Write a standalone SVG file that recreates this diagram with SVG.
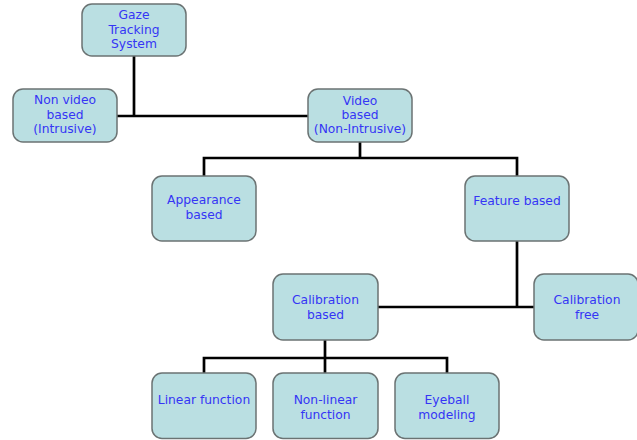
<svg xmlns="http://www.w3.org/2000/svg" width="637" height="440" viewBox="0 0 637 440">
<style>
.b{fill:#badfe2;stroke:#6b7373;stroke-width:1.5}
.t{font-family:"DejaVu Sans",sans-serif;font-size:12.3px;fill:#3535f5;text-anchor:middle}
.c{fill:none;stroke:#000;stroke-width:2.7}
</style>
<rect width="637" height="440" fill="#fff"/>
<g id="connectors">
<path class="c" d="M134 56V116M117 116H308"/>
<path class="c" d="M360 142V158M204 176V158H517V176"/>
<path class="c" d="M517 241V307M378 307H534"/>
<path class="c" d="M325 340V358M204 373V358H447V373M325 358V373"/>
</g>
<g id="gaze"><rect class="b" x="82" y="4" width="104" height="52" rx="10"/><text class="t" x="134" y="19">Gaze</text><text class="t" x="134" y="33.5">Tracking</text><text class="t" x="134" y="48">System</text></g>
<g id="nonvideo"><rect class="b" x="13" y="89" width="104" height="53" rx="10"/><text class="t" x="65" y="104">Non video</text><text class="t" x="65" y="118.5">based</text><text class="t" x="65" y="133">(Intrusive)</text></g>
<g id="video"><rect class="b" x="308" y="89" width="104" height="53" rx="10"/><text class="t" x="360" y="104.5">Video</text><text class="t" x="360" y="118.5">based</text><text class="t" x="360" y="133">(Non-Intrusive)</text></g>
<g id="appearance"><rect class="b" x="152" y="176" width="104" height="65" rx="10"/><text class="t" x="204" y="204">Appearance</text><text class="t" x="204" y="219">based</text></g>
<g id="feature"><rect class="b" x="465" y="176" width="104" height="65" rx="10"/><text class="t" x="517" y="205">Feature based</text></g>
<g id="calbased"><rect class="b" x="273" y="274" width="105" height="66" rx="10"/><text class="t" x="325.5" y="304">Calibration</text><text class="t" x="325.5" y="318.5">based</text></g>
<g id="calfree"><rect class="b" x="534" y="274" width="104" height="66" rx="10"/><text class="t" x="587" y="304">Calibration</text><text class="t" x="587" y="318.5">free</text></g>
<g id="linear"><rect class="b" x="152" y="373" width="104" height="65.5" rx="10"/><text class="t" x="204" y="403.5">Linear function</text></g>
<g id="nonlinear"><rect class="b" x="273" y="373" width="105" height="65.5" rx="10"/><text class="t" x="325.5" y="403.5">Non-linear</text><text class="t" x="325.5" y="418.5">function</text></g>
<g id="eyeball"><rect class="b" x="395" y="373" width="104" height="65.5" rx="10"/><text class="t" x="447" y="403.5">Eyeball</text><text class="t" x="447" y="418.5">modeling</text></g>
</svg>
